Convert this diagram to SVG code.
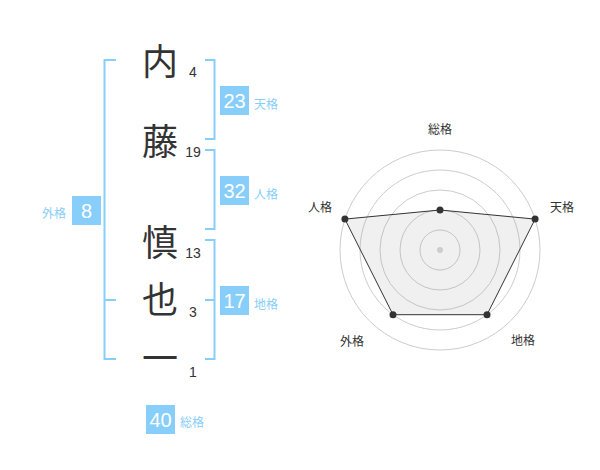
<svg xmlns="http://www.w3.org/2000/svg" width="600" height="470" viewBox="0 0 600 470">
<style>
.kanji{font-family:"Noto Sans CJK JP","Noto Sans CJK SC",sans-serif;font-size:36px;fill:#333;text-anchor:middle}
.strokes{font-family:"Liberation Sans",Arial,sans-serif;font-size:14px;fill:#333;text-anchor:middle}
.br{fill:none;stroke:#87cefa;stroke-width:2}
.box{fill:#87cefa}
.num{font-family:"Liberation Sans",Arial,sans-serif;font-size:20px;fill:#fff;text-anchor:middle}
.lbl{font-family:"Noto Sans CJK JP","Noto Sans CJK SC",sans-serif;font-size:12px;fill:#87cefa}
.rl{font-family:"Noto Sans CJK JP","Noto Sans CJK SC",sans-serif;font-size:12px;fill:#333;text-anchor:middle}
.ring{fill:none;stroke:#ccc;stroke-width:1}
.pt{fill:#333}
</style>
<rect width="600" height="470" fill="#fff"/>
<g id="name">
<text class="kanji" x="160" y="75">内</text>
<text class="kanji" x="160" y="155">藤</text>
<text class="kanji" x="160" y="256">慎</text>
<text class="kanji" x="160" y="313">也</text>
<text class="kanji" x="160" y="372">一</text>
<text class="strokes" x="193" y="77">4</text>
<text class="strokes" x="193" y="157">19</text>
<text class="strokes" x="193" y="258">13</text>
<text class="strokes" x="193" y="317">3</text>
<text class="strokes" x="193" y="377">1</text>
</g>
<g id="connectors">
<path class="br" d="M116,60 H104.5 V359 H116 M104.5,300 H116"/>
<path class="br" d="M205,60 H214.5 V139 H205"/>
<path class="br" d="M205,150 H214.5 V229 H205"/>
<path class="br" d="M205,240 H214.5 V359 H205 M214.5,300 H205"/>
</g>
<g id="tenkaku">
<rect class="box" x="220" y="86" width="29" height="29"/>
<text class="num" x="234.5" y="107.5">23</text>
<text class="lbl" x="254" y="108.5">天格</text>
</g>
<g id="jinkaku">
<rect class="box" x="220" y="176" width="29" height="29"/>
<text class="num" x="234.5" y="197.5">32</text>
<text class="lbl" x="254" y="198.5">人格</text>
</g>
<g id="chikaku">
<rect class="box" x="220" y="286" width="29" height="29"/>
<text class="num" x="234.5" y="307.5">17</text>
<text class="lbl" x="254" y="308.5">地格</text>
</g>
<g id="gaikaku">
<rect class="box" x="72" y="196" width="29" height="29"/>
<text class="num" x="86.5" y="217.5">8</text>
<text class="lbl" x="66" y="218" text-anchor="end">外格</text>
</g>
<g id="soukaku">
<rect class="box" x="146" y="405" width="29" height="29"/>
<text class="num" x="160.5" y="426.5">40</text>
<text class="lbl" x="180" y="427">総格</text>
</g>
<g id="radar">
<circle class="ring" cx="440" cy="250" r="20"/>
<circle class="ring" cx="440" cy="250" r="40"/>
<circle class="ring" cx="440" cy="250" r="60"/>
<circle class="ring" cx="440" cy="250" r="80"/>
<circle class="ring" cx="440" cy="250" r="100"/>
<polygon points="440,210 535.1,219.1 487,314.7 393,314.7 344.9,219.1" fill="#999" fill-opacity="0.15" stroke="#333" stroke-width="1"/>
<circle cx="440" cy="250" r="3" fill="#ccc"/>
<circle class="pt" cx="440" cy="210" r="3.5"/>
<circle class="pt" cx="535.1" cy="219.1" r="3.5"/>
<circle class="pt" cx="487" cy="314.7" r="3.5"/>
<circle class="pt" cx="393" cy="314.7" r="3.5"/>
<circle class="pt" cx="344.9" cy="219.1" r="3.5"/>
<text class="rl" x="440" y="134">総格</text>
<text class="rl" x="562" y="212">天格</text>
<text class="rl" x="320" y="212">人格</text>
<text class="rl" x="523" y="345">地格</text>
<text class="rl" x="352" y="346">外格</text>
</g>
</svg>
